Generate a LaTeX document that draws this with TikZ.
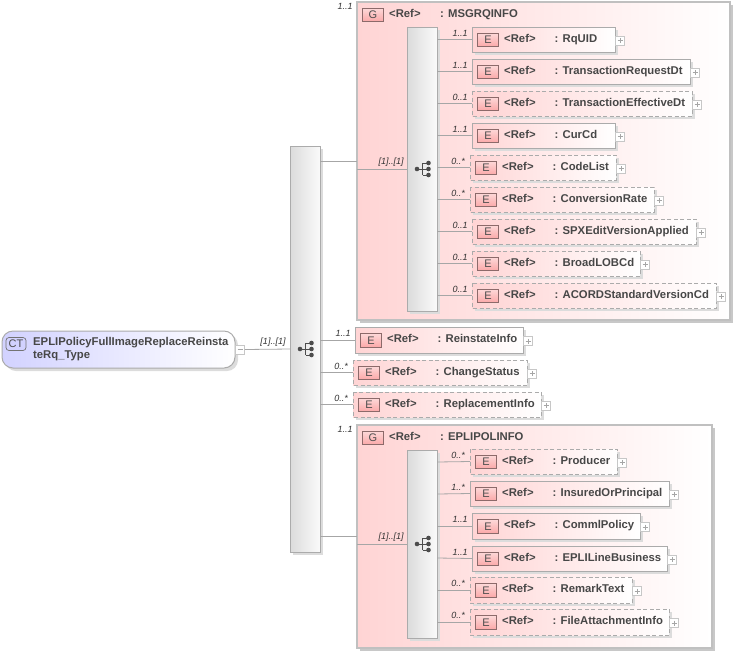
\documentclass[tikz,border=0pt]{standalone}
\usepackage{fontspec}
\setmainfont{Liberation Sans}
\definecolor{edgegray}{HTML}{ABABAB}
\definecolor{grpedge}{HTML}{C0C0C0}
\definecolor{linegray}{HTML}{A6A6A6}
\definecolor{pinkfill}{HTML}{FFD4D4}
\definecolor{badge}{HTML}{FBA8A8}
\definecolor{badgeedge}{HTML}{8C6A6A}
\definecolor{ctfill}{HTML}{D2D2FF}
\definecolor{shadowgray}{HTML}{DCDCDC}
\definecolor{gshadow}{HTML}{C8C8C8}
\tikzset{
  conn/.style={draw=linegray,line width=0.8pt},
  elem/.style={draw=edgegray,line width=1pt,left color=pinkfill,middle color=pinkfill!22,right color=white},
  dashedelem/.style={elem,dash pattern=on 4pt off 2.5pt},
  grp/.style={draw=grpedge,line width=1.2pt,left color=pinkfill,middle color=pinkfill!45,right color=white},
  seq/.style={draw=edgegray,line width=0.9pt,left color=black!14,right color=black!2},
  badgebox/.style={draw=badgeedge,line width=0.7pt,top color=badge!45,bottom color=badge,font=\fontsize{11}{11}\selectfont\color{black!70},inner sep=0pt,minimum width=20.5pt,minimum height=13.5pt},
  lbl/.style={font=\bfseries\fontsize{11.3}{13}\selectfont\color{black!72},anchor=base west,inner sep=0pt},
  card/.style={font=\itshape\fontsize{9}{9}\selectfont\color{black!80},inner sep=0pt},
  pm/.style={draw=black!22,line width=0.6pt,fill=white,minimum size=9pt,inner sep=0pt},
}
% element: name, left, top, right, bottom, style, card, label
\newcommand{\elbox}[8]{%
  \fill[shadowgray] (#2+3,#3+3) rectangle (#4+3,#5+3);
  \path[#6] (#2,#3) rectangle (#4,#5);
  \coordinate (#1) at (#2,{(#3+#5)/2});
  \node[badgebox] (#1b) at (#2+16,{(#3+#5)/2+0.5}) {E};
  \node[lbl] (#1r) at (#2+32,{(#3+#5)/2+2.5}) {<Ref>};
  \node[lbl] (#1t) at (#2+82.5,{(#3+#5)/2+2.5}) {: #8};
  \node[pm] (#1p) at (#4+5,{(#3+#5)/2+1}) {};
  \draw[black!35,line width=0.5pt] (#4+2.5,{(#3+#5)/2+1}) -- (#4+7.5,{(#3+#5)/2+1}) (#4+5,{(#3+#5)/2-1.5}) -- (#4+5,{(#3+#5)/2+3.5});
  \node[card] (#1c) at (#2-12,#3+6) {#7};
}
\newcommand{\seqicon}[3]{% name, x, y (centre)
  \fill[black!70] (#2-6,#3) circle (2.3);
  \draw[black!70,line width=1pt] (#2-6,#3) -- (#2-0.5,#3) (#2-0.5,#3-6) -- (#2-0.5,#3+6) (#2-0.5,#3-6) -- (#2+5.5,#3-6) (#2-0.5,#3) -- (#2+5.5,#3) (#2-0.5,#3+6) -- (#2+5.5,#3+6);
  \fill[black!70] (#2+5.5,#3-6) circle (2.3) (#2+5.5,#3) circle (2.3) (#2+5.5,#3+6) circle (2.3);
  \coordinate (#1) at (#2,#3);
}
\begin{document}
\begin{tikzpicture}[x=1pt,y=-1pt]
\useasboundingbox (0,0) rectangle (735,654);
% complex type
\fill[shadowgray,rounded corners=11pt] (5,334) rectangle (238,371);
\path[draw=edgegray,line width=1pt,left color=ctfill,middle color=ctfill!35,right color=white,rounded corners=11pt] (2,331) rectangle (235,368);
\node[draw=black!55,line width=0.7pt,fill=ctfill,rounded corners=3pt,font=\fontsize{11}{11}\selectfont\color{black!70},inner sep=0pt,minimum width=20pt,minimum height=13pt] (ctb) at (16,344) {CT};
\node[font=\bfseries\fontsize{11.3}{13}\selectfont\color{black!72},anchor=north west,inner sep=0pt,align=left] (ctt) at (33,337) {EPLIPolicyFullImageReplaceReinsta\\teRq\_Type};
\node[pm] (ctp) at (240,349.5) {};
\draw[black!35,line width=0.5pt] (237.5,349.5) -- (242.5,349.5);
% main sequence
\fill[shadowgray] (293,149) rectangle (323,555);
\path[seq] (290,146) rectangle (320,552);
\coordinate (mainin) at (290,349);
\seqicon{mainicon}{306}{349}
\draw[conn] (ctp.east) -- (mainin);
\node[card] (mainc) at (273,342.5) {[1]..[1]};
% group 1
\fill[gshadow] (360,5) rectangle (733,323);
\path[grp] (357,2) rectangle (730,320);
\node[badgebox] (g1b) at (373,15) {G};
\node[lbl] (g1r) at (389,17.5) {<Ref>};
\node[lbl] (g1t) at (440,17.5) {: MSGRQINFO};
\node[card] (g1c) at (345,6) {1..1};
\fill[shadowgray] (410,30) rectangle (440,314);
\path[seq] (407,27) rectangle (437,311);
\seqicon{g1icon}{423}{169}
\coordinate (g1in) at (407,169);
\coordinate (g1edge) at (357,169);
\coordinate (g1e) at (357,161);
\coordinate (m1) at (320,161);
\draw[conn] (m1) -- (g1e);
\draw[conn] (g1edge) -- (g1in);
\node[card] (g1s) at (391,162.5) {[1]..[1]};
\elbox{a}{472}{27}{615}{52}{elem}{1..1}{RqUID}
\elbox{b}{472}{59}{690}{84}{elem}{1..1}{TransactionRequestDt}
\elbox{c}{472}{91}{692}{116}{dashedelem}{0..1}{TransactionEffectiveDt}
\elbox{d}{472}{123}{615}{148}{elem}{1..1}{CurCd}
\elbox{e}{470}{155}{616}{180}{dashedelem}{0..*}{CodeList}
\elbox{f}{470}{187}{654}{212}{dashedelem}{0..*}{ConversionRate}
\elbox{g}{472}{219}{696}{244}{dashedelem}{0..1}{SPXEditVersionApplied}
\elbox{h}{472}{251}{640}{276}{dashedelem}{0..1}{BroadLOBCd}
\elbox{i}{472}{283}{716}{308}{dashedelem}{0..1}{ACORDStandardVersionCd}
\foreach \n/\y in {a/39.5,b/71.5,c/103.5,d/135.5,e/167.5,f/199.5,g/231.5,h/263.5,i/295.5}
  \draw[conn] (437,\y) -- (\n);
% direct children
\elbox{j}{355}{327}{523}{353}{elem}{1..1}{ReinstateInfo}
\elbox{k}{353}{360}{527}{385}{dashedelem}{0..*}{ChangeStatus}
\elbox{l}{353}{392}{541}{417}{dashedelem}{0..*}{ReplacementInfo}
\foreach \n/\y in {j/340,k/372.5,l/404.5}
  \draw[conn] (320,\y) -- (\n);
% group 2
\fill[gshadow] (360,428) rectangle (715,651);
\path[grp] (357,425) rectangle (712,648);
\node[badgebox] (g2b) at (373,438) {G};
\node[lbl] (g2r) at (389,440.5) {<Ref>};
\node[lbl] (g2t) at (440,440.5) {: EPLIPOLINFO};
\node[card] (g2c) at (345,429) {1..1};
\fill[shadowgray] (410,453) rectangle (440,641);
\path[seq] (407,450) rectangle (437,638);
\seqicon{g2icon}{423}{544}
\coordinate (g2in) at (407,544);
\coordinate (g2edge) at (357,544);
\coordinate (g2e) at (357,536);
\coordinate (m2) at (320,536);
\draw[conn] (m2) -- (g2e);
\draw[conn] (g2edge) -- (g2in);
\node[card] (g2s) at (391,537.5) {[1]..[1]};
\elbox{m}{470}{449}{617}{474}{dashedelem}{0..*}{Producer}
\elbox{n}{470}{481}{669}{506}{elem}{1..*}{InsuredOrPrincipal}
\elbox{o}{472}{513}{640}{539}{elem}{1..1}{CommlPolicy}
\elbox{p}{472}{546}{667}{571}{elem}{1..1}{EPLILineBusiness}
\elbox{q}{470}{577}{632}{603}{dashedelem}{0..*}{RemarkText}
\elbox{r}{470}{609}{669}{635}{dashedelem}{0..*}{FileAttachmentInfo}
\foreach \n/\y in {m/462,n/494,o/526,p/558,q/590,r/622}
  \draw[conn] (437,\y) -- (\n);
\end{tikzpicture}
\end{document}
